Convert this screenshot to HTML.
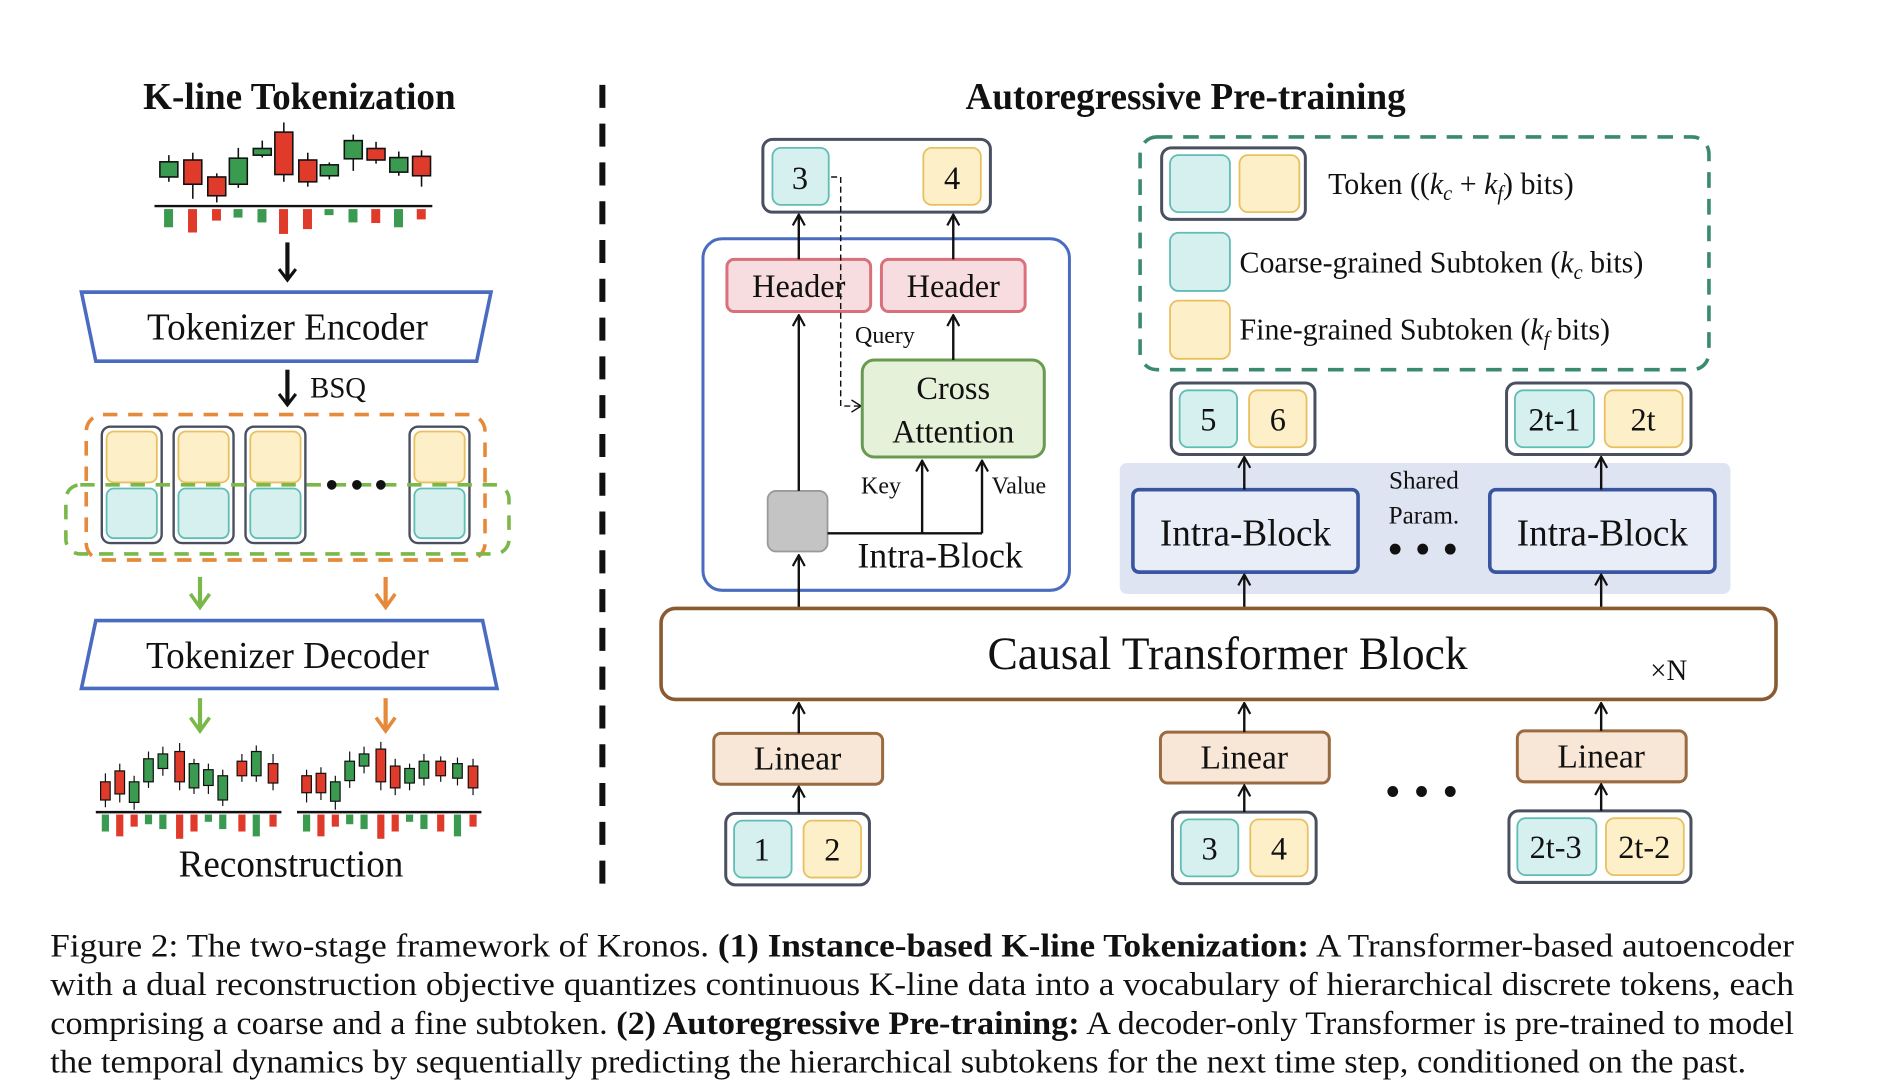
<!DOCTYPE html>
<html><head><meta charset="utf-8"><style>
html,body{margin:0;padding:0;background:#fff;width:1879px;height:1080px;overflow:hidden}
svg{display:block}
text{font-family:"Liberation Serif",serif;fill:#111}
</style></head><body>
<svg width="1879" height="1080" viewBox="0 0 1569 891" preserveAspectRatio="none" xmlns="http://www.w3.org/2000/svg">
<defs>
<marker id="ab" markerWidth="16" markerHeight="16" refX="13" refY="8" orient="auto" markerUnits="userSpaceOnUse" viewBox="0 0 16 16"><path d="M4,1 L13,8 L4,15" fill="none" stroke="#111" stroke-width="2.6"/></marker>
<marker id="a" markerWidth="12" markerHeight="12" refX="11" refY="6" orient="auto" markerUnits="userSpaceOnUse" viewBox="0 0 12 12"><path d="M2,1 L11,6 L2,11" fill="none" stroke="#111" stroke-width="1.8"/></marker>
<marker id="ad" markerWidth="12" markerHeight="12" refX="11" refY="6" orient="auto" markerUnits="userSpaceOnUse" viewBox="0 0 12 12"><path d="M3,1 L11,6 L3,11" fill="none" stroke="#111" stroke-width="1.2"/></marker>
</defs>

<!-- LEFT PANEL -->
<text x="250" y="90" font-size="31" font-weight="bold" text-anchor="middle">K-line Tokenization</text>
<g stroke="#111" stroke-width="1.3">
<line x1="141" y1="128" x2="141" y2="150"/><rect x="133.5" y="133.5" width="15" height="12.5" fill="#3a9a50"/>
<line x1="161" y1="126" x2="161" y2="164"/><rect x="153.5" y="132" width="15" height="20" fill="#e03a2a"/>
<line x1="181" y1="143" x2="181" y2="167"/><rect x="173.5" y="146" width="15" height="15.5" fill="#e03a2a"/>
<line x1="199" y1="122" x2="199" y2="155"/><rect x="191.5" y="130.5" width="15" height="21.5" fill="#3a9a50"/>
<line x1="219" y1="116" x2="219" y2="130"/><rect x="211.5" y="122.5" width="15" height="5.5" fill="#3a9a50"/>
<line x1="237" y1="101" x2="237" y2="150"/><rect x="229.5" y="109" width="15" height="35" fill="#e03a2a"/>
<line x1="257" y1="126" x2="257" y2="154"/><rect x="249.5" y="132" width="15" height="18" fill="#e03a2a"/>
<line x1="275" y1="134" x2="275" y2="148"/><rect x="267.5" y="136" width="15" height="9" fill="#3a9a50"/>
<line x1="295" y1="111" x2="295" y2="141"/><rect x="287.5" y="116" width="15" height="15" fill="#3a9a50"/>
<line x1="314" y1="117" x2="314" y2="135"/><rect x="306.5" y="122.5" width="15" height="9.5" fill="#e03a2a"/>
<line x1="333" y1="125" x2="333" y2="145"/><rect x="325.5" y="130" width="15" height="12" fill="#3a9a50"/>
<line x1="352" y1="124" x2="352" y2="154"/><rect x="344.5" y="129" width="15" height="16" fill="#e03a2a"/>
</g>
<line x1="129" y1="170" x2="361" y2="170" stroke="#111" stroke-width="2"/>
<g>
<rect x="137" y="172.5" width="7.5" height="15" fill="#3a9a50"/><rect x="157" y="172.5" width="7.5" height="19.3" fill="#e03a2a"/>
<rect x="177" y="172.5" width="7.5" height="9.5" fill="#e03a2a"/><rect x="195" y="172.5" width="7.5" height="7" fill="#3a9a50"/>
<rect x="215" y="172.5" width="7.5" height="11" fill="#3a9a50"/><rect x="233" y="172.5" width="7.5" height="20.5" fill="#e03a2a"/>
<rect x="253" y="172.5" width="7.5" height="16.5" fill="#e03a2a"/><rect x="271" y="172.5" width="7.5" height="5" fill="#3a9a50"/>
<rect x="291" y="172.5" width="7.5" height="11" fill="#3a9a50"/><rect x="310" y="172.5" width="7.5" height="11.5" fill="#e03a2a"/>
<rect x="329" y="172.5" width="7.5" height="15" fill="#3a9a50"/><rect x="348" y="172.5" width="7.5" height="8.5" fill="#e03a2a"/>
</g>
<line x1="240" y1="200" x2="240" y2="231" stroke="#111" stroke-width="3.5" marker-end="url(#ab)"/>
<polygon points="68,241 410,241 398,298 80,298" fill="#fff" stroke="#4a6cc0" stroke-width="3"/>
<text x="240" y="280" font-size="31" text-anchor="middle">Tokenizer Encoder</text>
<line x1="240" y1="305" x2="240" y2="334" stroke="#111" stroke-width="3.5" marker-end="url(#ab)"/>
<text x="259" y="328" font-size="24">BSQ</text>
<g>
<rect x="85" y="352" width="50" height="96" rx="7" fill="#fff" stroke="#4a5060" stroke-width="2"/>
<rect x="89" y="356" width="42" height="42" rx="6" fill="#fdefc8" stroke="#e8c060" stroke-width="1.5"/>
<rect x="89" y="403" width="42" height="41" rx="6" fill="#d5f0ee" stroke="#60bdb5" stroke-width="1.5"/>
<rect x="145" y="352" width="50" height="96" rx="7" fill="#fff" stroke="#4a5060" stroke-width="2"/>
<rect x="149" y="356" width="42" height="42" rx="6" fill="#fdefc8" stroke="#e8c060" stroke-width="1.5"/>
<rect x="149" y="403" width="42" height="41" rx="6" fill="#d5f0ee" stroke="#60bdb5" stroke-width="1.5"/>
<rect x="205" y="352" width="50" height="96" rx="7" fill="#fff" stroke="#4a5060" stroke-width="2"/>
<rect x="209" y="356" width="42" height="42" rx="6" fill="#fdefc8" stroke="#e8c060" stroke-width="1.5"/>
<rect x="209" y="403" width="42" height="41" rx="6" fill="#d5f0ee" stroke="#60bdb5" stroke-width="1.5"/>
<rect x="342" y="352" width="50" height="96" rx="7" fill="#fff" stroke="#4a5060" stroke-width="2"/>
<rect x="346" y="356" width="42" height="42" rx="6" fill="#fdefc8" stroke="#e8c060" stroke-width="1.5"/>
<rect x="346" y="403" width="42" height="41" rx="6" fill="#d5f0ee" stroke="#60bdb5" stroke-width="1.5"/>
</g>
<rect x="72" y="342" width="333" height="120" rx="14" fill="none" stroke="#e58a3a" stroke-width="3" stroke-dasharray="12 9"/>
<rect x="55" y="400" width="370" height="57" rx="12" fill="none" stroke="#7ab84a" stroke-width="3" stroke-dasharray="12 9"/>
<circle cx="277" cy="400" r="4" fill="#111"/><circle cx="298" cy="400" r="4" fill="#111"/><circle cx="318" cy="400" r="4" fill="#111"/>
<line x1="167" y1="476" x2="167" y2="500" stroke="#7ab84a" stroke-width="3.5"/><path d="M159,490 L167,501 L175,490" fill="none" stroke="#7ab84a" stroke-width="3"/>
<line x1="322" y1="476" x2="322" y2="500" stroke="#e58a3a" stroke-width="3.5"/><path d="M314,490 L322,501 L330,490" fill="none" stroke="#e58a3a" stroke-width="3"/>
<polygon points="80,512 403,512 415,568 68,568" fill="#fff" stroke="#4a6cc0" stroke-width="3"/>
<text x="240" y="551" font-size="31" text-anchor="middle">Tokenizer Decoder</text>
<line x1="167" y1="576" x2="167" y2="602" stroke="#7ab84a" stroke-width="3.5"/><path d="M159,592 L167,603 L175,592" fill="none" stroke="#7ab84a" stroke-width="3"/>
<line x1="322" y1="576" x2="322" y2="602" stroke="#e58a3a" stroke-width="3.5"/><path d="M314,592 L322,603 L330,592" fill="none" stroke="#e58a3a" stroke-width="3"/>
<g stroke="#111" stroke-width="1">
<line x1="88" y1="638" x2="88" y2="666"/><rect x="84" y="645" width="8" height="15" fill="#e03a2a"/>
<line x1="100" y1="630" x2="100" y2="662"/><rect x="96" y="636" width="8" height="19" fill="#e03a2a"/>
<line x1="112" y1="640" x2="112" y2="668"/><rect x="108" y="645" width="8" height="17" fill="#3a9a50"/>
<line x1="124" y1="620" x2="124" y2="650"/><rect x="120" y="626" width="8" height="19" fill="#3a9a50"/>
<line x1="136" y1="616" x2="136" y2="640"/><rect x="132" y="622" width="8" height="12" fill="#3a9a50"/>
<line x1="150" y1="613" x2="150" y2="652"/><rect x="146" y="620" width="8" height="25" fill="#e03a2a"/>
<line x1="162" y1="626" x2="162" y2="655"/><rect x="158" y="630" width="8" height="20" fill="#3a9a50"/>
<line x1="174" y1="630" x2="174" y2="655"/><rect x="170" y="635" width="8" height="13" fill="#3a9a50"/>
<line x1="186" y1="635" x2="186" y2="665"/><rect x="182" y="640" width="8" height="20" fill="#3a9a50"/>
<line x1="202" y1="622" x2="202" y2="645"/><rect x="198" y="628" width="8" height="12" fill="#e03a2a"/>
<line x1="214" y1="615" x2="214" y2="645"/><rect x="210" y="620" width="8" height="20" fill="#3a9a50"/>
<line x1="228" y1="622" x2="228" y2="652"/><rect x="224" y="630" width="8" height="16" fill="#e03a2a"/>
<line x1="256" y1="635" x2="256" y2="662"/><rect x="252" y="640" width="8" height="14" fill="#e03a2a"/>
<line x1="268" y1="633" x2="268" y2="660"/><rect x="264" y="638" width="8" height="16" fill="#e03a2a"/>
<line x1="280" y1="640" x2="280" y2="668"/><rect x="276" y="645" width="8" height="16" fill="#3a9a50"/>
<line x1="292" y1="620" x2="292" y2="650"/><rect x="288" y="628" width="8" height="16" fill="#3a9a50"/>
<line x1="304" y1="616" x2="304" y2="638"/><rect x="300" y="622" width="8" height="10" fill="#3a9a50"/>
<line x1="318" y1="612" x2="318" y2="652"/><rect x="314" y="618" width="8" height="27" fill="#e03a2a"/>
<line x1="330" y1="626" x2="330" y2="656"/><rect x="326" y="632" width="8" height="18" fill="#e03a2a"/>
<line x1="342" y1="630" x2="342" y2="652"/><rect x="338" y="634" width="8" height="12" fill="#3a9a50"/>
<line x1="354" y1="622" x2="354" y2="648"/><rect x="350" y="628" width="8" height="14" fill="#3a9a50"/>
<line x1="368" y1="624" x2="368" y2="645"/><rect x="364" y="628" width="8" height="12" fill="#e03a2a"/>
<line x1="382" y1="625" x2="382" y2="648"/><rect x="378" y="630" width="8" height="12" fill="#3a9a50"/>
<line x1="395" y1="626" x2="395" y2="656"/><rect x="391" y="632" width="8" height="18" fill="#e03a2a"/>
</g>
<line x1="80" y1="670" x2="235" y2="670" stroke="#111" stroke-width="2"/>
<line x1="248" y1="670" x2="402" y2="670" stroke="#111" stroke-width="2"/>
<g>
<rect x="85" y="672" width="6" height="14" fill="#3a9a50"/><rect x="97" y="672" width="6" height="18" fill="#e03a2a"/><rect x="109" y="672" width="6" height="10" fill="#e03a2a"/><rect x="121" y="672" width="6" height="8" fill="#3a9a50"/><rect x="133" y="672" width="6" height="12" fill="#3a9a50"/><rect x="147" y="672" width="6" height="20" fill="#e03a2a"/><rect x="159" y="672" width="6" height="14" fill="#e03a2a"/><rect x="171" y="672" width="6" height="6" fill="#3a9a50"/><rect x="183" y="672" width="6" height="12" fill="#3a9a50"/><rect x="199" y="672" width="6" height="14" fill="#e03a2a"/><rect x="211" y="672" width="6" height="18" fill="#3a9a50"/><rect x="225" y="672" width="6" height="10" fill="#e03a2a"/>
<rect x="253" y="672" width="6" height="14" fill="#3a9a50"/><rect x="265" y="672" width="6" height="18" fill="#e03a2a"/><rect x="277" y="672" width="6" height="10" fill="#e03a2a"/><rect x="289" y="672" width="6" height="8" fill="#3a9a50"/><rect x="301" y="672" width="6" height="12" fill="#3a9a50"/><rect x="315" y="672" width="6" height="20" fill="#e03a2a"/><rect x="327" y="672" width="6" height="14" fill="#e03a2a"/><rect x="339" y="672" width="6" height="6" fill="#3a9a50"/><rect x="351" y="672" width="6" height="12" fill="#3a9a50"/><rect x="365" y="672" width="6" height="14" fill="#e03a2a"/><rect x="379" y="672" width="6" height="18" fill="#3a9a50"/><rect x="392" y="672" width="6" height="10" fill="#e03a2a"/>
</g>
<text x="243" y="723" font-size="31" text-anchor="middle">Reconstruction</text>

<line x1="503" y1="70" x2="503" y2="735" stroke="#111" stroke-width="5" stroke-dasharray="19 13"/>

<!-- RIGHT PANEL -->
<text x="990" y="90" font-size="31" font-weight="bold" text-anchor="middle">Autoregressive Pre-training</text>
<rect x="587" y="197" width="306" height="290" rx="16" fill="#fff" stroke="#4a6cc0" stroke-width="2.5"/>
<rect x="637" y="115" width="190" height="60" rx="8" fill="#fff" stroke="#4a5060" stroke-width="2.5"/>
<rect x="645" y="122" width="47" height="47" rx="7" fill="#d5f0ee" stroke="#60bdb5" stroke-width="1.5"/>
<rect x="771" y="122" width="48" height="47" rx="7" fill="#fdefc8" stroke="#e8c060" stroke-width="1.5"/>
<text x="668" y="156" font-size="27" text-anchor="middle">3</text>
<text x="795" y="156" font-size="27" text-anchor="middle">4</text>
<rect x="607" y="214" width="120" height="43" rx="6" fill="#f8dde0" stroke="#d9707a" stroke-width="2.5"/>
<rect x="736" y="214" width="120" height="43" rx="6" fill="#f8dde0" stroke="#d9707a" stroke-width="2.5"/>
<text x="667" y="245" font-size="27" text-anchor="middle">Header</text>
<text x="796" y="245" font-size="27" text-anchor="middle">Header</text>
<line x1="667" y1="214" x2="667" y2="177" stroke="#111" stroke-width="2" marker-end="url(#a)"/>
<line x1="796" y1="214" x2="796" y2="177" stroke="#111" stroke-width="2" marker-end="url(#a)"/>
<path d="M694,146 L702,146 L702,335 L719,335" fill="none" stroke="#111" stroke-width="1.2" stroke-dasharray="5 3" marker-end="url(#ad)"/>
<text x="714" y="283" font-size="20">Query</text>
<rect x="720" y="297" width="152" height="80" rx="10" fill="#e6f1da" stroke="#6a9a50" stroke-width="2.5"/>
<text x="796" y="329" font-size="27" text-anchor="middle">Cross</text>
<text x="796" y="365" font-size="27" text-anchor="middle">Attention</text>
<line x1="796" y1="297" x2="796" y2="260" stroke="#111" stroke-width="2" marker-end="url(#a)"/>
<rect x="641" y="405" width="50" height="50" rx="7" fill="#c4c4c4" stroke="#9a9a9a" stroke-width="1.5"/>
<line x1="667" y1="405" x2="667" y2="260" stroke="#111" stroke-width="2" marker-end="url(#a)"/>
<path d="M691,440 L820,440" fill="none" stroke="#111" stroke-width="2"/>
<line x1="770" y1="440" x2="770" y2="380" stroke="#111" stroke-width="2" marker-end="url(#a)"/>
<line x1="820" y1="440" x2="820" y2="380" stroke="#111" stroke-width="2" marker-end="url(#a)"/>
<text x="719" y="407" font-size="20">Key</text>
<text x="828" y="407" font-size="20">Value</text>
<text x="785" y="468" font-size="30" text-anchor="middle">Intra-Block</text>
<line x1="667" y1="502" x2="667" y2="458" stroke="#111" stroke-width="2" marker-end="url(#a)"/>

<rect x="952" y="113" width="475" height="192" rx="14" fill="none" stroke="#3a8a70" stroke-width="3" stroke-dasharray="13 9"/>
<rect x="970" y="122" width="120" height="59" rx="8" fill="#fff" stroke="#4a5060" stroke-width="2.5"/>
<rect x="977" y="128" width="50" height="47" rx="7" fill="#d5f0ee" stroke="#60bdb5" stroke-width="1.5"/>
<rect x="1035" y="128" width="50" height="47" rx="7" fill="#fdefc8" stroke="#e8c060" stroke-width="1.5"/>
<text x="1109" y="160" font-size="25">Token ((<tspan font-style="italic">k</tspan><tspan font-size="17" font-style="italic" dy="5">c</tspan><tspan dy="-5"> + </tspan><tspan font-style="italic">k</tspan><tspan font-size="17" font-style="italic" dy="5">f</tspan><tspan dy="-5">) bits)</tspan></text>
<rect x="977" y="192" width="50" height="48" rx="7" fill="#d5f0ee" stroke="#60bdb5" stroke-width="1.5"/>
<text x="1035" y="225" font-size="25">Coarse-grained Subtoken (<tspan font-style="italic">k</tspan><tspan font-size="17" font-style="italic" dy="5">c</tspan><tspan dy="-5"> bits)</tspan></text>
<rect x="977" y="248" width="50" height="48" rx="7" fill="#fdefc8" stroke="#e8c060" stroke-width="1.5"/>
<text x="1035" y="280" font-size="25">Fine-grained Subtoken (<tspan font-style="italic">k</tspan><tspan font-size="17" font-style="italic" dy="5">f</tspan><tspan dy="-5"> bits)</tspan></text>

<rect x="978" y="316" width="120" height="59" rx="8" fill="#fff" stroke="#4a5060" stroke-width="2.5"/>
<rect x="985" y="322" width="48" height="47" rx="7" fill="#d5f0ee" stroke="#60bdb5" stroke-width="1.5"/>
<rect x="1043" y="322" width="48" height="47" rx="7" fill="#fdefc8" stroke="#e8c060" stroke-width="1.5"/>
<text x="1009" y="355" font-size="27" text-anchor="middle">5</text>
<text x="1067" y="355" font-size="27" text-anchor="middle">6</text>
<rect x="1258" y="316" width="154" height="59" rx="8" fill="#fff" stroke="#4a5060" stroke-width="2.5"/>
<rect x="1265" y="322" width="66" height="47" rx="7" fill="#d5f0ee" stroke="#60bdb5" stroke-width="1.5"/>
<rect x="1340" y="322" width="65" height="47" rx="7" fill="#fdefc8" stroke="#e8c060" stroke-width="1.5"/>
<text x="1298" y="355" font-size="27" text-anchor="middle">2t-1</text>
<text x="1372" y="355" font-size="27" text-anchor="middle">2t</text>

<rect x="935" y="382" width="510" height="108" rx="6" fill="#dfe4f2"/>
<rect x="946" y="404" width="188" height="68" rx="5" fill="#e9edf8" stroke="#3a55a0" stroke-width="3"/>
<rect x="1244" y="404" width="188" height="68" rx="5" fill="#e9edf8" stroke="#3a55a0" stroke-width="3"/>
<text x="1040" y="450" font-size="31" text-anchor="middle">Intra-Block</text>
<text x="1338" y="450" font-size="31" text-anchor="middle">Intra-Block</text>
<text x="1189" y="403" font-size="21" text-anchor="middle">Shared</text>
<text x="1189" y="432" font-size="21" text-anchor="middle">Param.</text>
<circle cx="1165" cy="453" r="4.5" fill="#111"/><circle cx="1188" cy="453" r="4.5" fill="#111"/><circle cx="1211" cy="453" r="4.5" fill="#111"/>
<line x1="1039" y1="404" x2="1039" y2="377" stroke="#111" stroke-width="2" marker-end="url(#a)"/>
<line x1="1337" y1="404" x2="1337" y2="377" stroke="#111" stroke-width="2" marker-end="url(#a)"/>
<line x1="1039" y1="502" x2="1039" y2="474" stroke="#111" stroke-width="2" marker-end="url(#a)"/>
<line x1="1337" y1="502" x2="1337" y2="474" stroke="#111" stroke-width="2" marker-end="url(#a)"/>

<rect x="552" y="502" width="931" height="75" rx="12" fill="#fff" stroke="#8a5a30" stroke-width="3"/>
<text x="1025" y="552" font-size="38" text-anchor="middle">Causal Transformer Block</text>
<text x="1378" y="561" font-size="24">×N</text>

<rect x="596" y="605" width="141" height="42" rx="6" fill="#f8e6d6" stroke="#9a6a40" stroke-width="2.5"/>
<rect x="969" y="604" width="141" height="42" rx="6" fill="#f8e6d6" stroke="#9a6a40" stroke-width="2.5"/>
<rect x="1267" y="603" width="141" height="42" rx="6" fill="#f8e6d6" stroke="#9a6a40" stroke-width="2.5"/>
<text x="666" y="635" font-size="28" text-anchor="middle">Linear</text>
<text x="1039" y="634" font-size="28" text-anchor="middle">Linear</text>
<text x="1337" y="633" font-size="28" text-anchor="middle">Linear</text>
<line x1="667" y1="605" x2="667" y2="580" stroke="#111" stroke-width="2" marker-end="url(#a)"/>
<line x1="1039" y1="604" x2="1039" y2="580" stroke="#111" stroke-width="2" marker-end="url(#a)"/>
<line x1="1337" y1="603" x2="1337" y2="580" stroke="#111" stroke-width="2" marker-end="url(#a)"/>
<circle cx="1163" cy="653" r="4.5" fill="#111"/><circle cx="1187" cy="653" r="4.5" fill="#111"/><circle cx="1211" cy="653" r="4.5" fill="#111"/>

<rect x="606" y="671" width="120" height="59" rx="8" fill="#fff" stroke="#4a5060" stroke-width="2.5"/>
<rect x="613" y="677" width="48" height="47" rx="7" fill="#d5f0ee" stroke="#60bdb5" stroke-width="1.5"/>
<rect x="671" y="677" width="48" height="47" rx="7" fill="#fdefc8" stroke="#e8c060" stroke-width="1.5"/>
<text x="636" y="710" font-size="27" text-anchor="middle">1</text>
<text x="695" y="710" font-size="27" text-anchor="middle">2</text>
<rect x="979" y="670" width="120" height="59" rx="8" fill="#fff" stroke="#4a5060" stroke-width="2.5"/>
<rect x="986" y="676" width="48" height="47" rx="7" fill="#d5f0ee" stroke="#60bdb5" stroke-width="1.5"/>
<rect x="1044" y="676" width="48" height="47" rx="7" fill="#fdefc8" stroke="#e8c060" stroke-width="1.5"/>
<text x="1010" y="709" font-size="27" text-anchor="middle">3</text>
<text x="1068" y="709" font-size="27" text-anchor="middle">4</text>
<rect x="1260" y="669" width="152" height="59" rx="8" fill="#fff" stroke="#4a5060" stroke-width="2.5"/>
<rect x="1267" y="675" width="66" height="47" rx="7" fill="#d5f0ee" stroke="#60bdb5" stroke-width="1.5"/>
<rect x="1341" y="675" width="65" height="47" rx="7" fill="#fdefc8" stroke="#e8c060" stroke-width="1.5"/>
<text x="1299" y="708" font-size="27" text-anchor="middle">2t-3</text>
<text x="1373" y="708" font-size="27" text-anchor="middle">2t-2</text>
<line x1="667" y1="671" x2="667" y2="649" stroke="#111" stroke-width="2" marker-end="url(#a)"/>
<line x1="1039" y1="670" x2="1039" y2="648" stroke="#111" stroke-width="2" marker-end="url(#a)"/>
<line x1="1337" y1="669" x2="1337" y2="647" stroke="#111" stroke-width="2" marker-end="url(#a)"/>

<g font-size="27">
<text x="42" y="789" textLength="1456" lengthAdjust="spacingAndGlyphs">Figure 2: The two-stage framework of Kronos. <tspan font-weight="bold">(1) Instance-based K-line Tokenization:</tspan> A Transformer-based autoencoder</text>
<text x="42" y="821" textLength="1456" lengthAdjust="spacingAndGlyphs">with a dual reconstruction objective quantizes continuous K-line data into a vocabulary of hierarchical discrete tokens, each</text>
<text x="42" y="853" textLength="1456" lengthAdjust="spacingAndGlyphs">comprising a coarse and a fine subtoken. <tspan font-weight="bold">(2) Autoregressive Pre-training:</tspan> A decoder-only Transformer is pre-trained to model</text>
<text x="42" y="885" textLength="1416" lengthAdjust="spacingAndGlyphs">the temporal dynamics by sequentially predicting the hierarchical subtokens for the next time step, conditioned on the past.</text>
</g>
</svg>
</body></html>
